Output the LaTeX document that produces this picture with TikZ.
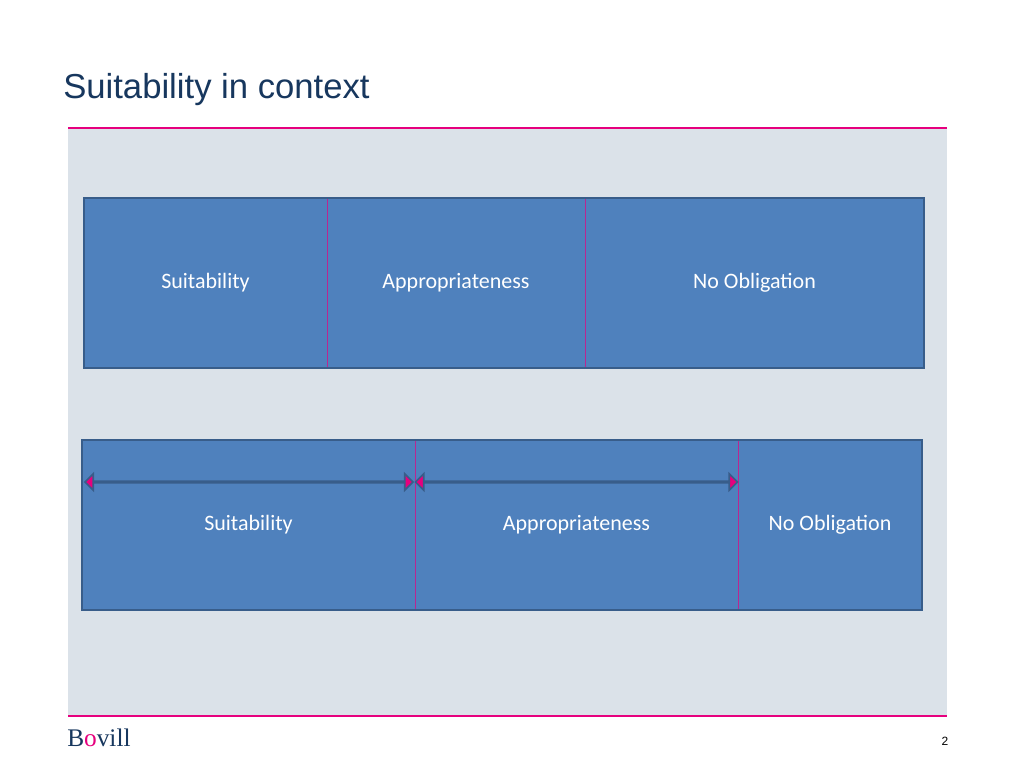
\documentclass[tikz,border=0pt]{standalone}
\usepackage{fontspec}
\setmainfont{Carlito}
\newfontfamily\arialf{Liberation Sans}
\newfontfamily\serifl{Liberation Serif}
\usetikzlibrary{shapes.arrows}
\definecolor{boxblue}{HTML}{4F81BD}
\definecolor{boxedge}{HTML}{385D8A}
\definecolor{mag}{HTML}{E6007E}
\definecolor{panel}{HTML}{DBE2E9}
\definecolor{navy}{HTML}{17375E}
\tikzset{
  cell/.style={fill=boxblue, draw=none, inner sep=0pt, text=white, font=\fontsize{16.5}{18}\selectfont},
  outer/.style={draw=boxedge, line width=1.5pt},
  divider/.style={draw=mag!70!boxblue, line width=0.6pt},
  dbl/.style={double arrow, fill=mag, draw=boxedge, line width=1.2pt, minimum width=12pt, double arrow head extend=5.6pt, inner sep=0pt, shape border uses incircle=false},
}
\begin{document}
\begin{tikzpicture}[x=0.75pt,y=-0.75pt]
\useasboundingbox (0,0) rectangle (1024,768);
\fill[white] (0,0) rectangle (1024,768);
\fill[panel] (68,128) rectangle (947,715);
\draw[mag, line width=0.8pt] (68,128) -- (947,128);
\draw[mag, line width=0.8pt] (68,716) -- (947,716);
\node[anchor=west, text=navy, font=\arialf\fontsize{26}{30}\selectfont, inner sep=0pt] (title) at (63,90) {Suitability in context};
% top row
\node[cell, minimum width=182.25pt, minimum height=127.5pt] (t1) at (205.5,283) {Suitability};
\node[cell, minimum width=193.5pt, minimum height=127.5pt] (t2) at (456,283) {Appropriateness};
\node[cell, minimum width=254.25pt, minimum height=127.5pt] (t3) at (754.5,283) {No Obligation};
\draw[divider] (327,199) -- (327,367);
\draw[divider] (585,199) -- (585,367);
\draw[outer] (84,198) rectangle (924,368);
% bottom row
\node[cell, minimum width=249.75pt, minimum height=127.5pt] (b1) at (248.5,525) {Suitability};
\node[cell, minimum width=242.25pt, minimum height=127.5pt] (b2) at (576.5,525) {Appropriateness};
\node[cell, minimum width=138pt, minimum height=127.5pt] (b3) at (830,525) {No Obligation};
\draw[divider] (415,441) -- (415,609);
\draw[divider] (738,441) -- (738,609);
\draw[outer] (82,440) rectangle (922,610);
% arrows
\node[dbl, minimum height=246pt] (a1) at (249,482) {};
\node[dbl, minimum height=241.5pt] (a2) at (576.5,482) {};
% footer
\node[anchor=west, inner sep=0pt, font=\serifl\fontsize{19}{22}\selectfont, text=navy] (logo) at (67,738) {B\textcolor{mag}{o}vill};
\node[inner sep=0pt, font=\arialf\fontsize{9}{10}\selectfont] (pg) at (945,741) {2};
\end{tikzpicture}
\end{document}
